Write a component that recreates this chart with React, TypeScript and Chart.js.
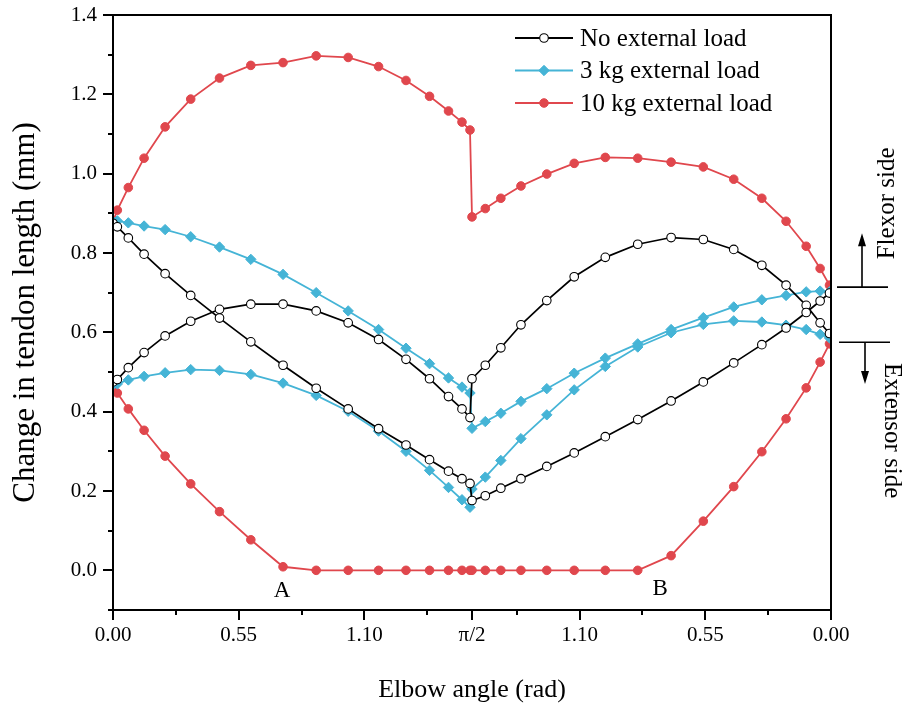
import React, { useEffect, useRef } from 'react';
import { Chart, registerables } from 'chart.js';

Chart.register(...registerables);

const HALF_PI = Math.PI / 2;
const FONT = "'Liberation Serif', 'Times New Roman', serif";

// Positions along the x axis (rad): 0 -> pi/2 is flexion, pi/2 -> pi is the return (labelled pi - position)
const leftAngles = [0, 0.019, 0.067, 0.136, 0.228, 0.34, 0.466, 0.603, 0.744, 0.889, 1.029, 1.162, 1.282, 1.385, 1.468, 1.527, 1.562];
const rightAngles = [HALF_PI, 1.629, 1.697, 1.785, 1.898, 2.018, 2.154, 2.296, 2.442, 2.583, 2.716, 2.839, 2.945, 3.033, 3.094, 3.135];

// No external load
const noLoadPathALeft = [0.875, 0.866, 0.838, 0.797, 0.748, 0.693, 0.636, 0.576, 0.517, 0.459, 0.407, 0.357, 0.316, 0.279, 0.25, 0.231, 0.219];
const noLoadPathARight = [0.176, 0.188, 0.207, 0.231, 0.262, 0.296, 0.337, 0.38, 0.427, 0.475, 0.523, 0.569, 0.611, 0.65, 0.679, 0.699];
const noLoadPathBLeft = [0.475, 0.481, 0.511, 0.549, 0.591, 0.628, 0.658, 0.671, 0.671, 0.654, 0.624, 0.582, 0.532, 0.483, 0.438, 0.407, 0.385];
const noLoadPathBRight = [0.483, 0.517, 0.561, 0.619, 0.68, 0.74, 0.789, 0.822, 0.839, 0.834, 0.809, 0.769, 0.719, 0.668, 0.624, 0.597];

// 3 kg external load
const load3PathALeft = [0.879, 0.881, 0.876, 0.868, 0.859, 0.841, 0.815, 0.784, 0.746, 0.7, 0.654, 0.607, 0.56, 0.521, 0.485, 0.462, 0.447];
const load3PathARight = [0.358, 0.375, 0.396, 0.426, 0.458, 0.497, 0.535, 0.571, 0.607, 0.637, 0.664, 0.682, 0.693, 0.702, 0.704, 0.702];
const load3PathBLeft = [0.468, 0.47, 0.48, 0.489, 0.498, 0.506, 0.504, 0.494, 0.472, 0.441, 0.401, 0.351, 0.3, 0.252, 0.209, 0.178, 0.159];
const load3PathBRight = [0.205, 0.235, 0.277, 0.332, 0.392, 0.455, 0.514, 0.563, 0.599, 0.62, 0.629, 0.626, 0.618, 0.607, 0.595, 0.586];

// 10 kg external load
const load10PathALeft = [0.879, 0.908, 0.965, 1.039, 1.118, 1.188, 1.241, 1.273, 1.28, 1.297, 1.293, 1.27, 1.235, 1.195, 1.158, 1.13, 1.11];
const load10PathARight = [0.891, 0.912, 0.938, 0.969, 0.999, 1.026, 1.041, 1.039, 1.029, 1.017, 0.986, 0.938, 0.88, 0.817, 0.761, 0.719];
const load10PathBLeft = [0.466, 0.447, 0.407, 0.353, 0.288, 0.218, 0.148, 0.077, 0.009, 0, 0, 0, 0, 0, 0, 0, 0];
const load10PathBRight = [0, 0, 0, 0, 0, 0, 0, 0, 0.037, 0.124, 0.211, 0.299, 0.382, 0.46, 0.525, 0.571];

const seriesNames = ['No external load', '3 kg external load', '10 kg external load'];
const seriesColors = ['#000000', '#45b4d6', '#e0474d'];

const xTickValues = [0, 0.275, 0.55, 0.825, 1.1, 1.375, HALF_PI, Math.PI - 1.375, Math.PI - 1.1, Math.PI - 0.825, Math.PI - 0.55, Math.PI - 0.275, Math.PI];
const xTickLabels = ['0.00', '', '0.55', '', '1.10', '', 'π/2', '', '1.10', '', '0.55', '', '0.00'];
const yTickValues = [-0.1, 0, 0.1, 0.2, 0.3, 0.4, 0.5, 0.6, 0.7, 0.8, 0.9, 1.0, 1.1, 1.2, 1.3, 1.4];
const yTickLabels = ['', '0.0', '', '0.2', '', '0.4', '', '0.6', '', '0.8', '', '1.0', '', '1.2', '', '1.4'];

const xTitle = 'Elbow angle (rad)';
const yTitle = 'Change in tendon length (mm)';

const pointLabels = ['A', 'B'];
const pointLabelX = [0.74, 2.394];
const pointLabelY = [-0.051, -0.046];

const flexorLevel = 0.714;
const extensorLevel = 0.575;
const flexorArrowTip = 0.85;
const extensorArrowTip = 0.47;
const sideLabels = ['Flexor side', 'Extensor side'];
const sideLabelY = [0.925, 0.352];

function branch(leftY: number[], rightY: number[]) {
  return [
    ...leftAngles.map((a, i) => ({ x: a, y: leftY[i] })),
    ...rightAngles.map((a, i) => ({ x: a, y: rightY[i] })),
  ];
}

function styleFor(idx: number) {
  const c = seriesColors[idx];
  if (idx === 0) {
    return { borderColor: c, backgroundColor: '#ffffff', pointBackgroundColor: '#ffffff', pointBorderColor: c, pointStyle: 'circle', pointRadius: 4.3, pointBorderWidth: 1.1, borderWidth: 1.7 };
  }
  if (idx === 1) {
    return { borderColor: c, backgroundColor: c, pointBackgroundColor: c, pointBorderColor: c, pointStyle: 'rectRot', pointRadius: 5.2, pointBorderWidth: 1, borderWidth: 1.8 };
  }
  return { borderColor: c, backgroundColor: c, pointBackgroundColor: c, pointBorderColor: c, pointStyle: 'circle', pointRadius: 4.3, pointBorderWidth: 1, borderWidth: 1.8 };
}

function drawMarker(ctx: CanvasRenderingContext2D, idx: number, x: number, y: number) {
  const s = styleFor(idx) as any;
  ctx.save();
  ctx.fillStyle = s.pointBackgroundColor;
  ctx.strokeStyle = s.pointBorderColor;
  ctx.lineWidth = s.pointBorderWidth;
  ctx.beginPath();
  if (s.pointStyle === 'rectRot') {
    const r = s.pointRadius;
    ctx.moveTo(x, y - r);
    ctx.lineTo(x + r, y);
    ctx.lineTo(x, y + r);
    ctx.lineTo(x - r, y);
    ctx.closePath();
  } else {
    ctx.arc(x, y, s.pointRadius, 0, Math.PI * 2);
  }
  ctx.fill();
  ctx.stroke();
  ctx.restore();
}

const decorPlugin = {
  id: 'decor',
  afterDraw(chart: any) {
    const { ctx, chartArea, scales } = chart;
    const { left, right, top, bottom } = chartArea;
    const xs = scales.x;
    const ys = scales.y;
    ctx.save();
    ctx.strokeStyle = '#000';
    ctx.lineWidth = 2;
    // frame
    ctx.strokeRect(left, top, right - left, bottom - top);
    // x ticks
    ctx.beginPath();
    xTickValues.forEach((v, i) => {
      const px = Math.round(xs.getPixelForValue(v));
      const len = xTickLabels[i] ? 10 : 5;
      ctx.moveTo(px, bottom);
      ctx.lineTo(px, bottom + len);
    });
    // y ticks
    yTickValues.forEach((v, i) => {
      const py = Math.round(ys.getPixelForValue(v));
      const len = yTickLabels[i] ? 10 : 5;
      ctx.moveTo(left, py);
      ctx.lineTo(left - len, py);
    });
    ctx.stroke();

    // legend
    const lx0 = right - 316;
    const lx1 = right - 258;
    const tx = right - 251;
    ctx.font = `25px ${FONT}`;
    ctx.textBaseline = 'middle';
    ctx.textAlign = 'left';
    seriesNames.forEach((name, i) => {
      const yy = top + 23 + i * 32.5;
      ctx.strokeStyle = seriesColors[i];
      ctx.lineWidth = 1.8;
      ctx.beginPath();
      ctx.moveTo(lx0, yy);
      ctx.lineTo(lx1, yy);
      ctx.stroke();
      drawMarker(ctx, i, (lx0 + lx1) / 2, yy);
      ctx.fillStyle = '#000';
      ctx.fillText(name, tx, yy + 1);
    });

    // A / B labels
    ctx.font = `23px ${FONT}`;
    ctx.textAlign = 'center';
    ctx.fillStyle = '#000';
    pointLabels.forEach((t, i) => {
      ctx.fillText(t, xs.getPixelForValue(pointLabelX[i]), ys.getPixelForValue(pointLabelY[i]));
    });

    // flexor / extensor side markers
    ctx.strokeStyle = '#000';
    ctx.fillStyle = '#000';
    ctx.lineWidth = 1.6;
    const fy = ys.getPixelForValue(flexorLevel);
    const ey = ys.getPixelForValue(extensorLevel);
    const fTip = ys.getPixelForValue(flexorArrowTip);
    const eTip = ys.getPixelForValue(extensorArrowTip);
    ctx.beginPath();
    ctx.moveTo(right + 6, fy);
    ctx.lineTo(right + 57, fy);
    ctx.moveTo(right + 31, fy);
    ctx.lineTo(right + 31, fTip + 10);
    ctx.moveTo(right + 8, ey);
    ctx.lineTo(right + 59, ey);
    ctx.moveTo(right + 34, ey);
    ctx.lineTo(right + 34, eTip - 10);
    ctx.stroke();
    ctx.beginPath();
    ctx.moveTo(right + 31, fTip);
    ctx.lineTo(right + 27, fTip + 13);
    ctx.lineTo(right + 35, fTip + 13);
    ctx.closePath();
    ctx.moveTo(right + 34, eTip);
    ctx.lineTo(right + 30, eTip - 13);
    ctx.lineTo(right + 38, eTip - 13);
    ctx.closePath();
    ctx.fill();

    ctx.font = `25px ${FONT}`;
    ctx.textAlign = 'center';
    ctx.textBaseline = 'middle';
    ctx.save();
    ctx.translate(right + 56, ys.getPixelForValue(sideLabelY[0]));
    ctx.rotate(-Math.PI / 2);
    ctx.fillText(sideLabels[0], 0, 0);
    ctx.restore();
    ctx.save();
    ctx.translate(right + 61, ys.getPixelForValue(sideLabelY[1]));
    ctx.rotate(Math.PI / 2);
    ctx.fillText(sideLabels[1], 0, 0);
    ctx.restore();

    ctx.restore();
  },
};

export default function App() {
  const canvasRef = useRef<HTMLCanvasElement | null>(null);

  useEffect(() => {
    document.body.style.margin = '0';
    const canvas = canvasRef.current;
    if (!canvas) return;

    const paths = [
      [noLoadPathALeft, noLoadPathARight, noLoadPathBLeft, noLoadPathBRight],
      [load3PathALeft, load3PathARight, load3PathBLeft, load3PathBRight],
      [load10PathALeft, load10PathARight, load10PathBLeft, load10PathBRight],
    ];
    const datasets: any[] = [];
    paths.forEach((p, idx) => {
      const st = styleFor(idx);
      datasets.push({ label: seriesNames[idx], data: branch(p[0], p[1]), showLine: true, tension: 0, ...st });
      datasets.push({ label: seriesNames[idx] + ' (2)', data: branch(p[2], p[3]), showLine: true, tension: 0, ...st });
    });

    const chart = new Chart(canvas, {
      type: 'scatter',
      data: { datasets },
      options: {
        responsive: false,
        animation: false,
        devicePixelRatio: 1,
        layout: { padding: { left: 0, top: 15, right: 76, bottom: 0 } },
        plugins: { legend: { display: false }, tooltip: { enabled: false } },
        scales: {
          x: {
            type: 'linear',
            min: 0,
            max: Math.PI,
            grid: { display: false, drawTicks: false },
            border: { display: false },
            afterBuildTicks: (scale: any) => {
              scale.ticks = xTickValues.map((v) => ({ value: v }));
            },
            afterFit: (scale: any) => {
              scale.height = 101;
              scale.paddingLeft = 0;
              scale.paddingRight = 0;
            },
            ticks: {
              autoSkip: false,
              maxRotation: 0,
              minRotation: 0,
              padding: 13,
              color: '#000',
              font: { family: FONT, size: 21 },
              callback: (_v: any, i: number) => xTickLabels[i],
            },
            title: {
              display: true,
              text: xTitle,
              color: '#000',
              font: { family: FONT, size: 26 },
              padding: { top: 0, bottom: 5 },
            },
          },
          y: {
            type: 'linear',
            min: -0.1,
            max: 1.4,
            grid: { display: false, drawTicks: false },
            border: { display: false },
            afterBuildTicks: (scale: any) => {
              scale.ticks = yTickValues.map((v) => ({ value: v }));
            },
            afterFit: (scale: any) => {
              scale.width = 113;
              scale.paddingTop = 0;
              scale.paddingBottom = 0;
            },
            ticks: {
              autoSkip: false,
              padding: 16,
              color: '#000',
              font: { family: FONT, size: 21 },
              callback: (_v: any, i: number) => yTickLabels[i],
            },
            title: {
              display: true,
              text: yTitle,
              color: '#000',
              font: { family: FONT, size: 31 },
              padding: { top: 7, bottom: 0 },
            },
          },
        },
      },
      plugins: [decorPlugin],
    } as any);

    return () => chart.destroy();
  }, []);

  return (
    <div style={{ width: 907, height: 711 }}>
      <canvas ref={canvasRef} width={907} height={711} style={{ display: 'block' }} />
    </div>
  );
}
